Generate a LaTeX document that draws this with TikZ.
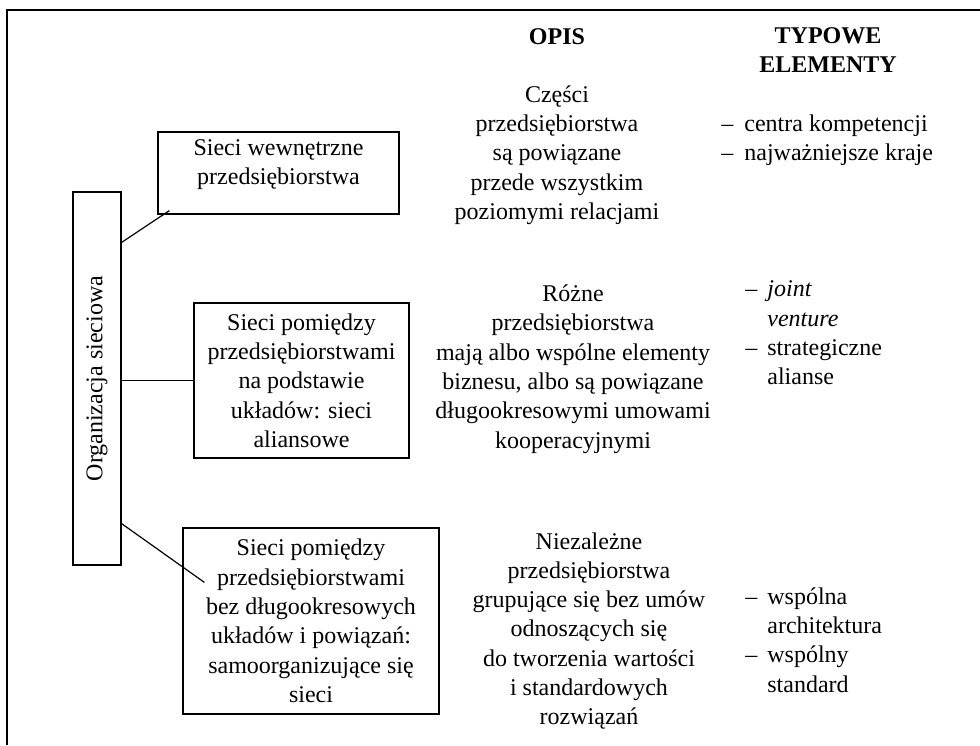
\documentclass[tikz,border=0pt]{standalone}
\usepackage{fontspec}
\setmainfont{Liberation Serif}
\usetikzlibrary{positioning}
\begin{document}
\fontsize{12}{14.65}\selectfont
\begin{tikzpicture}[x=0.5pt,y=-0.5pt,
  netbox/.style={draw,line width=0.6pt,align=center,inner sep=0pt},
  txt/.style={align=center,inner sep=0pt},
  lst/.style={align=left,inner sep=0pt,anchor=west},
  link/.style={line width=0.6pt}]
\useasboundingbox (0,0) rectangle (980,745);
\draw[line width=1pt] (7,745) -- (7,9.5) -- (980,9.5);

% column heads
\node[txt,font=\bfseries] (opis) at (557,37) {OPIS};
\node[txt,font=\bfseries] (typowe) at (828,50) {TYPOWE\\ELEMENTY};

% left column: organisation and its three kinds of networks
\node[netbox,minimum width=24pt,minimum height=186.5pt] (org) at (97,378.5)
  {\rotatebox{90}{Organizacja sieciowa}};
\node[netbox,minimum width=120.5pt,minimum height=41pt,text depth=11pt] (wewn) at (278.5,173)
  {Sieci wewnętrzne\\przedsiębiorstwa};
\node[netbox,minimum width=107.5pt,minimum height=77.5pt] (alian) at (301.5,380.5)
  {Sieci pomiędzy\\przedsiębiorstwami\\na podstawie\\układów: sieci\\aliansowe};
\node[netbox,minimum width=128pt,minimum height=93pt] (samo) at (311,621)
  {Sieci pomiędzy\\przedsiębiorstwami\\bez długookresowych\\układów i powiązań:\\samoorganizujące się\\sieci};

\coordinate (wewnend) at ([xshift=6pt,yshift=2pt]wewn.south west);
\coordinate (samoend) at ([xshift=11pt,yshift=-27.5pt]samo.north west);
\draw[link] ([yshift=-25.5pt]org.north east) -- (wewnend);
\draw[link] (org.east |- alian.west) -- (alian.west);
\draw[link] ([yshift=21pt]org.south east) -- (samoend);

% descriptions
\node[txt] (opis1) at (557,155)
  {Części\\przedsiębiorstwa\\są powiązane\\przede wszystkim\\poziomymi relacjami};
\node[txt] (opis2) at (573,369)
  {Różne\\przedsiębiorstwa\\mają albo wspólne elementy\\biznesu, albo są powiązane\\długookresowymi umowami\\kooperacyjnymi};
\node[txt] (opis3) at (589,631)
  {Niezależne\\przedsiębiorstwa\\grupujące się bez umów\\odnoszących się\\do tworzenia wartości\\i standardowych\\rozwiązań};

% typical elements
\node[lst] (elem1) at (721,140.5)
  {–\hspace{5.5pt}centra kompetencji\\–\hspace{5.5pt}najważniejsze kraje};
\node[lst] (elem2) at (745,333)
  {–\hspace{5pt}\textit{joint}\\\phantom{–}\hspace{5pt}\textit{venture}\\–\hspace{5pt}strategiczne\\\phantom{–}\hspace{5pt}alianse};
\node[lst] (elem3) at (745,640)
  {–\hspace{5pt}wspólna\\\phantom{–}\hspace{5pt}architektura\\–\hspace{5pt}wspólny\\\phantom{–}\hspace{5pt}standard};
\end{tikzpicture}
\end{document}
